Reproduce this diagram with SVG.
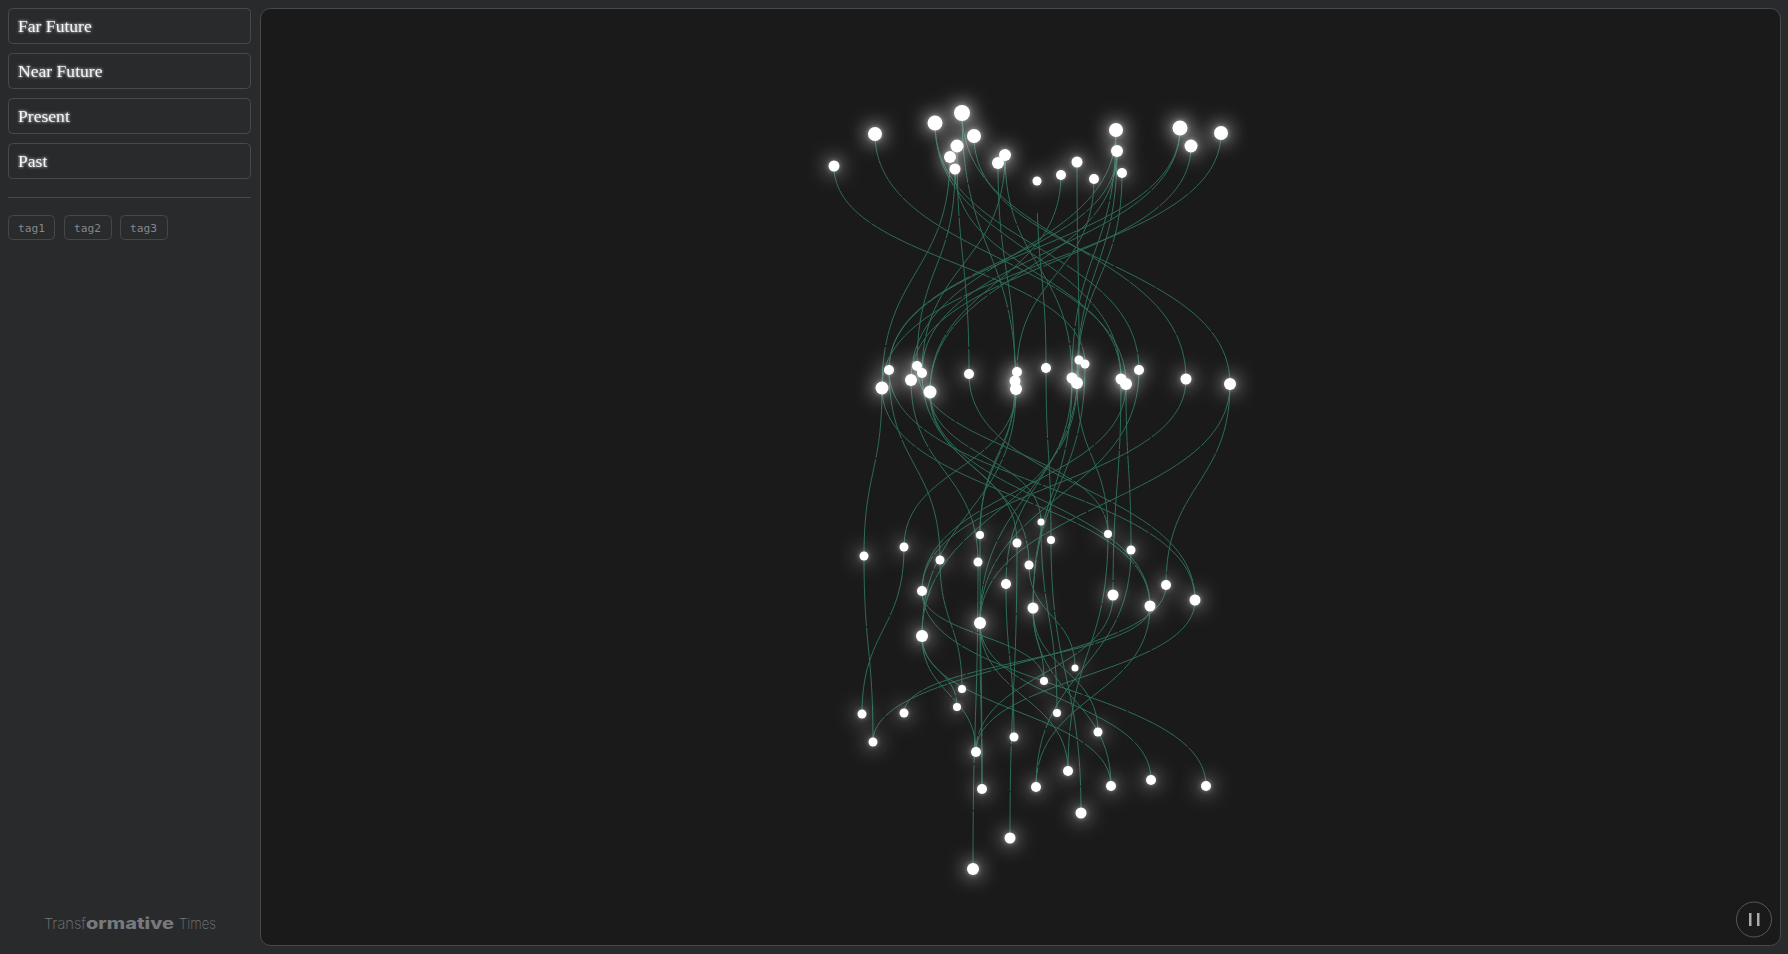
<svg xmlns="http://www.w3.org/2000/svg" width="1788" height="954" viewBox="0 0 1788 954">
<style>
.btn{fill:#292a2c;stroke:#47494d;stroke-width:1}
.lbl{font-family:"Liberation Serif",serif;font-size:17.6px;fill:#f4f4f4}
.tag{fill:#2a2b2d;stroke:#45474b;stroke-width:1}
.tagt{font-family:"DejaVu Sans Mono",monospace;font-size:11.2px;fill:#85878a}
.e path{fill:none;stroke:#2c6d54;stroke-width:1;stroke-dasharray:70 1.5 130 2 45 1}
.e path.g{stroke-dasharray:0 32 500}
.n circle{fill:#fff;filter:url(#glow)}
</style>
<defs>
<filter id="glow" x="-600%" y="-600%" width="1300%" height="1300%">
<feGaussianBlur in="SourceGraphic" stdDeviation="10" result="b"/>
<feComponentTransfer in="b" result="c"><feFuncA type="linear" slope="1.2"/></feComponentTransfer>
<feGaussianBlur in="SourceGraphic" stdDeviation="2.5" result="m"/>
<feComponentTransfer in="m" result="d"><feFuncA type="linear" slope="0.45"/></feComponentTransfer>
<feGaussianBlur in="SourceGraphic" stdDeviation="0.5" result="s"/>
<feMerge><feMergeNode in="c"/><feMergeNode in="d"/><feMergeNode in="s"/></feMerge>
</filter>
<filter id="tg" x="-10%" y="-40%" width="120%" height="180%">
<feGaussianBlur in="SourceGraphic" stdDeviation="1.4" result="b"/>
<feMerge><feMergeNode in="b"/><feMergeNode in="SourceGraphic"/></feMerge>
</filter>
</defs>
<rect width="1788" height="954" fill="#292a2c"/>
<rect x="260.5" y="8.5" width="1520" height="937" rx="10" fill="#1a1a1a" stroke="#47494d"/>
<g id="btn-far"><rect class="btn" x="8.5" y="8.5" width="242" height="35" rx="4"/><text class="lbl" x="18" y="32" filter="url(#tg)">Far Future</text></g>
<g id="btn-near"><rect class="btn" x="8.5" y="53.5" width="242" height="35" rx="4"/><text class="lbl" x="18" y="77" filter="url(#tg)">Near Future</text></g>
<g id="btn-present"><rect class="btn" x="8.5" y="98.5" width="242" height="35" rx="4"/><text class="lbl" x="18" y="122" filter="url(#tg)">Present</text></g>
<g id="btn-past"><rect class="btn" x="8.5" y="143.5" width="242" height="35" rx="4"/><text class="lbl" x="18" y="167" filter="url(#tg)">Past</text></g>
<line x1="8" y1="197.5" x2="251" y2="197.5" stroke="#47494d"/>
<g id="tag1"><rect class="tag" x="8.5" y="215.5" width="46" height="24" rx="4"/><text class="tagt" x="18" y="231.5">tag1</text></g>
<g id="tag2"><rect class="tag" x="64.5" y="215.5" width="47" height="24" rx="4"/><text class="tagt" x="74" y="231.5">tag2</text></g>
<g id="tag3"><rect class="tag" x="120.5" y="215.5" width="47" height="24" rx="4"/><text class="tagt" x="130" y="231.5">tag3</text></g>
<text id="brand" x="44" y="929" font-family="Inter,'Liberation Sans',sans-serif" font-size="15" fill="#77797c"><tspan font-weight="200" textLength="42" lengthAdjust="spacingAndGlyphs">Transf</tspan><tspan font-weight="800" textLength="88" lengthAdjust="spacingAndGlyphs">ormative</tspan><tspan font-weight="200" dx="5" textLength="37" lengthAdjust="spacingAndGlyphs">Times</tspan></text>
<g id="connectors" class="e">
<path d="M834 166C834 265 1085 265 1085 364"/>
<path d="M875 134C875 259 1126 259 1126 384"/>
<path d="M935 123C935 247 1139 247 1139 370"/>
<path d="M935 123C935 251 1121 251 1121 379"/>
<path d="M962 113C962 246 1186 246 1186 379"/>
<path d="M962 113C962 251 1016 251 1016 389"/>
<path d="M974 136C974 260 1230 260 1230 384"/>
<path d="M957 146C957 260 969 260 969 374"/>
<path d="M950 157C950 272 882 272 882 388"/>
<path d="M955 169C955 267 917 267 917 366"/>
<path d="M955 169C955 274 1121 274 1121 379"/>
<path d="M1005 155C1005 264 922 264 922 373"/>
<path d="M1005 155C1005 266 1072 266 1072 378"/>
<path d="M998 163C998 272 1015 272 1015 381"/>
<path class="g" d="M1037 181C1037 274 1046 274 1046 368"/>
<path d="M1061 175C1061 283 930 283 930 392"/>
<path d="M1077 162C1077 261 1079 261 1079 360"/>
<path d="M1094 179C1094 275 1017 275 1017 372"/>
<path d="M1116 130C1116 255 911 255 911 380"/>
<path d="M1116 130C1116 254 1072 254 1072 378"/>
<path d="M1117 151C1117 271 930 271 930 392"/>
<path d="M1117 151C1117 267 1077 267 1077 383"/>
<path d="M1117 151C1117 260 889 260 889 370"/>
<path d="M1122 173C1122 278 1077 278 1077 383"/>
<path d="M1180 128C1180 249 889 249 889 370"/>
<path d="M1180 128C1180 250 922 250 922 373"/>
<path d="M1191 146C1191 263 911 263 911 380"/>
<path d="M1221 133C1221 260 882 260 882 388"/>
<path d="M882 388C882 472 864 472 864 556"/>
<path d="M889 370C889 465 940 465 940 560"/>
<path d="M911 380C911 471 978 471 978 562"/>
<path d="M1016 389C1016 468 904 468 904 547"/>
<path d="M969 374C969 487 1195 487 1195 600"/>
<path d="M1230 384C1230 503 980 503 980 623"/>
<path d="M1230 384C1230 484 1166 484 1166 585"/>
<path d="M1186 379C1186 485 922 485 922 591"/>
<path d="M1126 384C1126 487 922 487 922 591"/>
<path d="M1016 389C1016 512 922 512 922 636"/>
<path d="M1077 383C1077 510 922 510 922 636"/>
<path d="M1077 383C1077 458 1108 458 1108 534"/>
<path d="M1121 379C1121 487 1113 487 1113 595"/>
<path d="M1126 384C1126 467 1131 467 1131 550"/>
<path d="M1046 368C1046 454 1051 454 1051 540"/>
<path d="M930 392C930 457 1041 457 1041 522"/>
<path d="M922 373C922 469 1029 469 1029 565"/>
<path d="M930 392C930 467 1017 467 1017 543"/>
<path d="M930 392C930 499 1150 499 1150 606"/>
<path d="M889 370C889 485 1195 485 1195 600"/>
<path d="M1015 381C1015 458 980 458 980 535"/>
<path d="M1072 378C1072 481 1006 481 1006 584"/>
<path d="M1072 378C1072 493 1033 493 1033 608"/>
<path d="M1085 364C1085 486 1033 486 1033 608"/>
<path d="M1017 372C1017 453 980 453 980 535"/>
<path d="M1139 370C1139 496 980 496 980 623"/>
<path d="M1079 360C1079 491 980 491 980 623"/>
<path d="M882 388C882 497 1150 497 1150 606"/>
<path d="M917 366C917 450 1108 450 1108 534"/>
<path d="M864 556C864 649 873 649 873 742"/>
<path d="M904 547C904 630 862 630 862 714"/>
<path d="M1150 606C1150 660 904 660 904 713"/>
<path d="M1195 600C1195 676 976 676 976 752"/>
<path d="M1166 585C1166 663 873 663 873 742"/>
<path d="M1150 606C1150 696 1036 696 1036 787"/>
<path d="M922 591C922 688 1206 688 1206 786"/>
<path d="M922 636C922 711 1111 711 1111 786"/>
<path d="M922 636C922 694 976 694 976 752"/>
<path d="M980 623C980 706 982 706 982 789"/>
<path d="M980 623C980 697 1068 697 1068 771"/>
<path d="M978 562C978 715 973 715 973 869"/>
<path d="M1017 543C1017 690 1010 690 1010 838"/>
<path d="M1006 584C1006 660 1014 660 1014 737"/>
<path d="M1051 540C1051 676 1081 676 1081 813"/>
<path d="M1033 608C1033 670 1098 670 1098 732"/>
<path d="M1033 608C1033 697 1111 697 1111 786"/>
<path d="M980 623C980 701 1151 701 1151 780"/>
<path d="M1029 565C1029 616 1075 616 1075 668"/>
<path d="M1033 608C1033 644 1044 644 1044 681"/>
<path d="M1041 522C1041 617 1057 617 1057 713"/>
<path d="M940 560C940 624 962 624 962 689"/>
<path d="M922 636C922 671 957 671 957 707"/>
<path d="M1113 595C1113 673 976 673 976 752"/>
<path d="M922 591C922 636 1044 636 1044 681"/>
<path d="M980 535C980 662 982 662 982 789"/>
<path d="M1108 534C1108 652 1068 652 1068 771"/>
<path d="M1131 550C1131 668 1036 668 1036 787"/>
</g>
<g id="nodes-far" class="n">
<g id="t1"><circle cx="834" cy="166" r="5.5"/></g>
<g id="t2"><circle cx="875" cy="134" r="7"/></g>
<g id="t3"><circle cx="935" cy="123" r="7.5"/></g>
<g id="t4"><circle cx="962" cy="113" r="8"/></g>
<g id="t5"><circle cx="974" cy="136" r="7"/></g>
<g id="t6"><circle cx="957" cy="146" r="6.5"/></g>
<g id="t7"><circle cx="950" cy="157" r="6"/></g>
<g id="t8"><circle cx="955" cy="169" r="5.5"/></g>
<g id="t9"><circle cx="1005" cy="155" r="6"/></g>
<g id="t10"><circle cx="998" cy="163" r="6"/></g>
<g id="t11"><circle cx="1037" cy="181" r="4.5"/></g>
<g id="t12"><circle cx="1061" cy="175" r="5"/></g>
<g id="t13"><circle cx="1077" cy="162" r="5.5"/></g>
<g id="t14"><circle cx="1094" cy="179" r="5"/></g>
<g id="t15"><circle cx="1116" cy="130" r="7"/></g>
<g id="t16"><circle cx="1117" cy="151" r="6"/></g>
<g id="t17"><circle cx="1122" cy="173" r="5"/></g>
<g id="t18"><circle cx="1180" cy="128" r="7.5"/></g>
<g id="t19"><circle cx="1191" cy="146" r="6.5"/></g>
<g id="t20"><circle cx="1221" cy="133" r="7"/></g>
</g>
<g id="nodes-near" class="n">
<g id="u1"><circle cx="889" cy="370" r="5"/></g>
<g id="u2"><circle cx="882" cy="388" r="6.5"/></g>
<g id="u3"><circle cx="911" cy="380" r="6"/></g>
<g id="u4"><circle cx="917" cy="366" r="5"/></g>
<g id="u5"><circle cx="922" cy="373" r="5"/></g>
<g id="u6"><circle cx="930" cy="392" r="6.5"/></g>
<g id="u7"><circle cx="969" cy="374" r="5"/></g>
<g id="u8"><circle cx="1017" cy="372" r="5"/></g>
<g id="u9"><circle cx="1015" cy="381" r="5.5"/></g>
<g id="u10"><circle cx="1016" cy="389" r="6"/></g>
<g id="u11"><circle cx="1046" cy="368" r="5"/></g>
<g id="u12"><circle cx="1079" cy="360" r="4.5"/></g>
<g id="u13"><circle cx="1085" cy="364" r="4.5"/></g>
<g id="u14"><circle cx="1072" cy="378" r="5.5"/></g>
<g id="u15"><circle cx="1077" cy="383" r="6"/></g>
<g id="u16"><circle cx="1121" cy="379" r="5.5"/></g>
<g id="u17"><circle cx="1126" cy="384" r="6"/></g>
<g id="u18"><circle cx="1139" cy="370" r="5"/></g>
<g id="u19"><circle cx="1186" cy="379" r="5.5"/></g>
<g id="u20"><circle cx="1230" cy="384" r="6"/></g>
</g>
<g id="nodes-present" class="n">
<g id="p1"><circle cx="864" cy="556" r="4.5"/></g>
<g id="p2"><circle cx="904" cy="547" r="4.5"/></g>
<g id="p3"><circle cx="940" cy="560" r="4.5"/></g>
<g id="p4"><circle cx="980" cy="535" r="4"/></g>
<g id="p5"><circle cx="978" cy="562" r="4.5"/></g>
<g id="p6"><circle cx="1017" cy="543" r="4.5"/></g>
<g id="p7"><circle cx="1041" cy="522" r="3.5"/></g>
<g id="p8"><circle cx="1051" cy="540" r="4"/></g>
<g id="p9"><circle cx="1029" cy="565" r="4.5"/></g>
<g id="p10"><circle cx="1006" cy="584" r="5"/></g>
<g id="p11"><circle cx="922" cy="591" r="5"/></g>
<g id="p12"><circle cx="922" cy="636" r="6"/></g>
<g id="p13"><circle cx="980" cy="623" r="6"/></g>
<g id="p14"><circle cx="1033" cy="608" r="5.5"/></g>
<g id="p15"><circle cx="1108" cy="534" r="4"/></g>
<g id="p16"><circle cx="1131" cy="550" r="4.5"/></g>
<g id="p17"><circle cx="1113" cy="595" r="5.5"/></g>
<g id="p18"><circle cx="1166" cy="585" r="5"/></g>
<g id="p19"><circle cx="1150" cy="606" r="5.5"/></g>
<g id="p20"><circle cx="1195" cy="600" r="5.5"/></g>
</g>
<g id="nodes-past" class="n">
<g id="v1"><circle cx="1075" cy="668" r="3.5"/></g>
<g id="v2"><circle cx="1044" cy="681" r="4"/></g>
<g id="v3"><circle cx="962" cy="689" r="4"/></g>
<g id="v4"><circle cx="957" cy="707" r="4"/></g>
<g id="v5"><circle cx="1057" cy="713" r="4"/></g>
<g id="v6"><circle cx="862" cy="714" r="4.5"/></g>
<g id="v7"><circle cx="904" cy="713" r="4.5"/></g>
<g id="v8"><circle cx="873" cy="742" r="4.5"/></g>
<g id="v9"><circle cx="1098" cy="732" r="4.5"/></g>
<g id="v10"><circle cx="1014" cy="737" r="4.5"/></g>
<g id="v11"><circle cx="976" cy="752" r="5"/></g>
<g id="v12"><circle cx="1068" cy="771" r="5"/></g>
<g id="v13"><circle cx="982" cy="789" r="5"/></g>
<g id="v14"><circle cx="1036" cy="787" r="5"/></g>
<g id="v15"><circle cx="1111" cy="786" r="5"/></g>
<g id="v16"><circle cx="1151" cy="780" r="5"/></g>
<g id="v17"><circle cx="1206" cy="786" r="5"/></g>
<g id="v18"><circle cx="1081" cy="813" r="5.5"/></g>
<g id="v19"><circle cx="1010" cy="838" r="5.5"/></g>
<g id="v20"><circle cx="973" cy="869" r="6"/></g>
</g>
<g id="pause"><circle cx="1754" cy="919.5" r="17.5" fill="#1a1a1a" stroke="#55575a"/><rect x="1749" y="913" width="2.5" height="13" fill="#a8aaac"/><rect x="1757" y="913" width="2.5" height="13" fill="#a8aaac"/></g>
</svg>
